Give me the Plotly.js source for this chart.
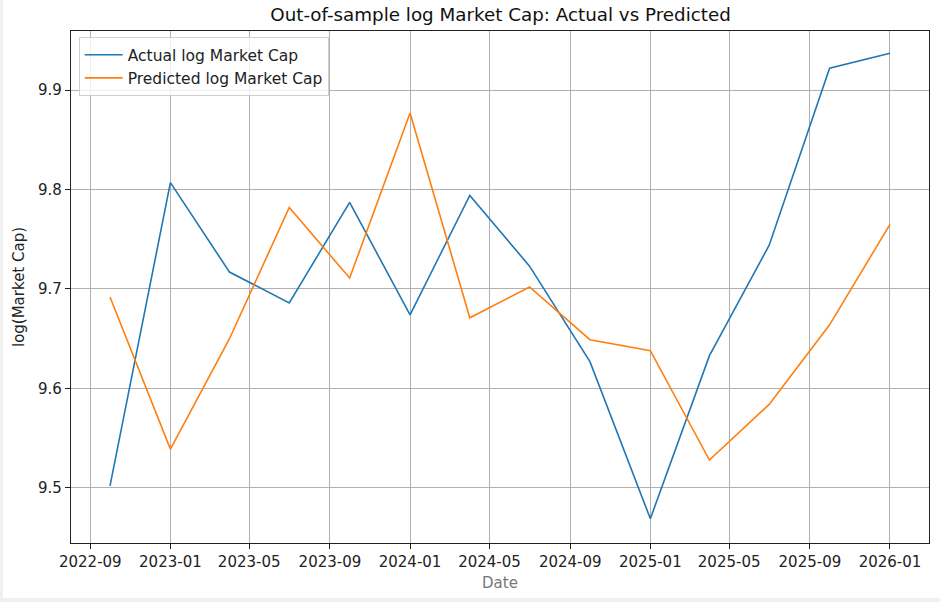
<!DOCTYPE html>
<html>
<head>
<meta charset="utf-8">
<script src="https://cdn.plot.ly/plotly-3.0.1.min.js"></script>
<style>
html,body{margin:0;padding:0;background:#f0f0f0;}
#chart{position:absolute;left:3px;top:0;width:937px;height:598px;background:#fff;}
</style>
</head>
<body>
<div id="chart"></div>
<script>
const dates = ["2022-10-01","2023-01-01","2023-04-01","2023-07-01","2023-10-01","2024-01-01","2024-04-01","2024-07-01","2024-10-01","2025-01-01","2025-04-01","2025-07-01","2025-10-01","2026-01-01"];
const actual = [9.502, 9.807, 9.717, 9.686, 9.787, 9.674, 9.794, 9.723, 9.627, 9.469, 9.633, 9.744, 9.922, 9.937];
const predicted = [9.692, 9.539, 9.650, 9.782, 9.711, 9.877, 9.671, 9.702, 9.649, 9.638, 9.528, 9.584, 9.664, 9.765];
const seriesNames = ["Actual log Market Cap", "Predicted log Market Cap"];

const font = "DejaVu Sans, sans-serif";
const traces = [
  {x: dates, y: actual, name: seriesNames[0], type: "scatter", mode: "lines", line: {color: "#1f77b4", width: 1.6}},
  {x: dates, y: predicted, name: seriesNames[1], type: "scatter", mode: "lines", line: {color: "#ff7f0e", width: 1.6}}
];
const layout = {
  width: 937, height: 598,
  margin: {l: 68, r: 11, t: 31, b: 55},
  paper_bgcolor: "#fff", plot_bgcolor: "#fff",
  font: {family: font, size: 15, color: "#222"},
  title: {text: "Out-of-sample log Market Cap: Actual vs Predicted", font: {family: font, size: 18.3, color: "#111"}, x: 0.531, xanchor: "center", y: 0.975, yanchor: "middle"},
  xaxis: {
    type: "date",
    range: ["2022-08-02 14:00", "2026-03-01 10:00"],
    tick0: "2022-09-01", dtick: "M4", tickformat: "%Y-%m",
    showgrid: true, gridcolor: "#b0b0b0", gridwidth: 1,
    showline: true, linecolor: "#222", linewidth: 1.2, mirror: true,
    ticks: "outside", ticklen: 5, tickcolor: "#222", tickwidth: 1,
    zeroline: false,
    tickfont: {family: font, size: 15, color: "#222"},
    title: {text: "Date", font: {family: font, size: 15, color: "#777"}, standoff: 7}
  },
  yaxis: {
    range: [9.4446, 9.9594],
    dtick: 0.1, tick0: 9.5, tickformat: ".1f",
    showgrid: true, gridcolor: "#b0b0b0", gridwidth: 1,
    showline: true, linecolor: "#222", linewidth: 1.2, mirror: true,
    ticks: "outside", ticklen: 5, tickcolor: "#222", tickwidth: 1,
    zeroline: false,
    tickfont: {family: font, size: 15, color: "#222"},
    title: {text: "log(Market Cap)", font: {family: font, size: 15, color: "#222"}, standoff: 9}
  },
  showlegend: true,
  legend: {
    x: 0.009, y: 0.988, xanchor: "left", yanchor: "top",
    bgcolor: "rgba(255,255,255,0.8)", bordercolor: "#d0d0d0", borderwidth: 1,
    font: {family: font, size: 15.5, color: "#222"},
    tracegroupgap: 0, itemwidth: 38
  }
};
Plotly.newPlot("chart", traces, layout, {displayModeBar: false, staticPlot: true});
</script>
</body>
</html>
